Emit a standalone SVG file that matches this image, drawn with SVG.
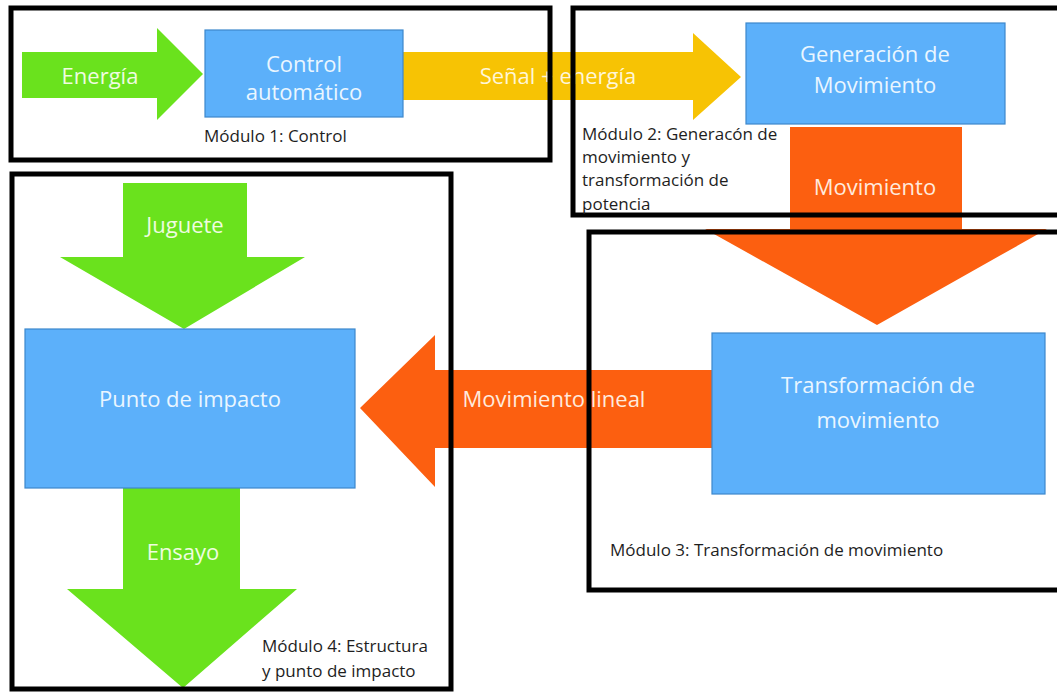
<svg xmlns="http://www.w3.org/2000/svg" width="1057" height="692" viewBox="0 0 1057 692">
<style>
.box{fill:#5cb0fa;stroke:#3c88cc;stroke-width:1.2}
.green{fill:#6ae21d}
.yellow{fill:#f7c304}
.orange{fill:#fc5f10}
.module{fill:none;stroke:#000;stroke-width:5}
.w{font-family:"Open Sans",sans-serif;font-size:22px;text-anchor:middle}
.wb{fill:#eaf6ff}
.wg{fill:#effce0}
.wy{fill:#fff6d8}
.wo{fill:#ffeadd}
.lbl{font-family:"Open Sans",sans-serif;font-size:17px;fill:#1e1e1e}
</style>
<rect width="1057" height="692" fill="#ffffff"/>
<g id="connectors">
<polygon id="arrow-energia" class="green" points="22,52 157,52 157,28 203,74 157,120 157,98 22,98"/>
<polygon id="arrow-senal" class="yellow" points="403,52 693,52 693,33 741,77 693,120 693,100 403,100"/>
<polygon id="arrow-movimiento" class="orange" points="790,127 962,127 962,229 1047,229 877,325 705,229 790,229"/>
<polygon id="arrow-lineal" class="orange" points="712,370 435,370 435,335 360,408 435,487 435,448 712,448"/>
<polygon id="arrow-juguete" class="green" points="123,183 247,183 247,257 305,257 184,329 60,257 123,257"/>
<polygon id="arrow-ensayo" class="green" points="123,488 240,488 240,589 297,589 183,688 67,589 123,589"/>
<text class="w wg" x="100" y="84">Energía</text>
<text class="w wy" x="558" y="84">Señal + energía</text>
<text class="w wo" x="875" y="195">Movimiento</text>
<text class="w wg" x="185" y="233">Juguete</text>
<text class="w wo" x="554" y="407">Movimiento lineal</text>
<text class="w wg" x="183" y="560">Ensayo</text>
</g>
<g id="node-control">
<rect class="box" x="205" y="30" width="198" height="87"/>
<text class="w wb" x="304" y="72">Control</text>
<text class="w wb" x="304" y="100">automático</text>
</g>
<g id="node-generacion">
<rect class="box" x="746" y="23" width="259" height="101"/>
<text class="w wb" x="875" y="62">Generación de</text>
<text class="w wb" x="875" y="93">Movimiento</text>
</g>
<g id="node-punto">
<rect class="box" x="25" y="329" width="330" height="159"/>
<text class="w wb" x="190" y="407">Punto de impacto</text>
</g>
<g id="node-transformacion">
<rect class="box" x="712" y="333" width="333" height="161"/>
<text class="w wb" x="878" y="393">Transformación de</text>
<text class="w wb" x="878" y="428">movimiento</text>
</g>
<g id="module-1">
<rect class="module" x="11" y="8" width="539" height="152"/>
<text class="lbl" x="204" y="142">Módulo 1: Control</text>
</g>
<g id="module-2">
<rect class="module" x="573" y="8" width="492" height="207"/>
<text class="lbl" x="582" y="140">Módulo 2: Generacón de</text>
<text class="lbl" x="582" y="163">movimiento y</text>
<text class="lbl" x="582" y="186">transformación de</text>
<text class="lbl" x="582" y="210">potencia</text>
</g>
<g id="module-3">
<rect class="module" x="589" y="232" width="476" height="358"/>
<text class="lbl" x="610" y="556">Módulo 3: Transformación de movimiento</text>
</g>
<g id="module-4">
<rect class="module" x="12" y="174" width="439" height="515"/>
<text class="lbl" x="262" y="652">Módulo 4: Estructura</text>
<text class="lbl" x="262" y="677">y punto de impacto</text>
</g>
</svg>
